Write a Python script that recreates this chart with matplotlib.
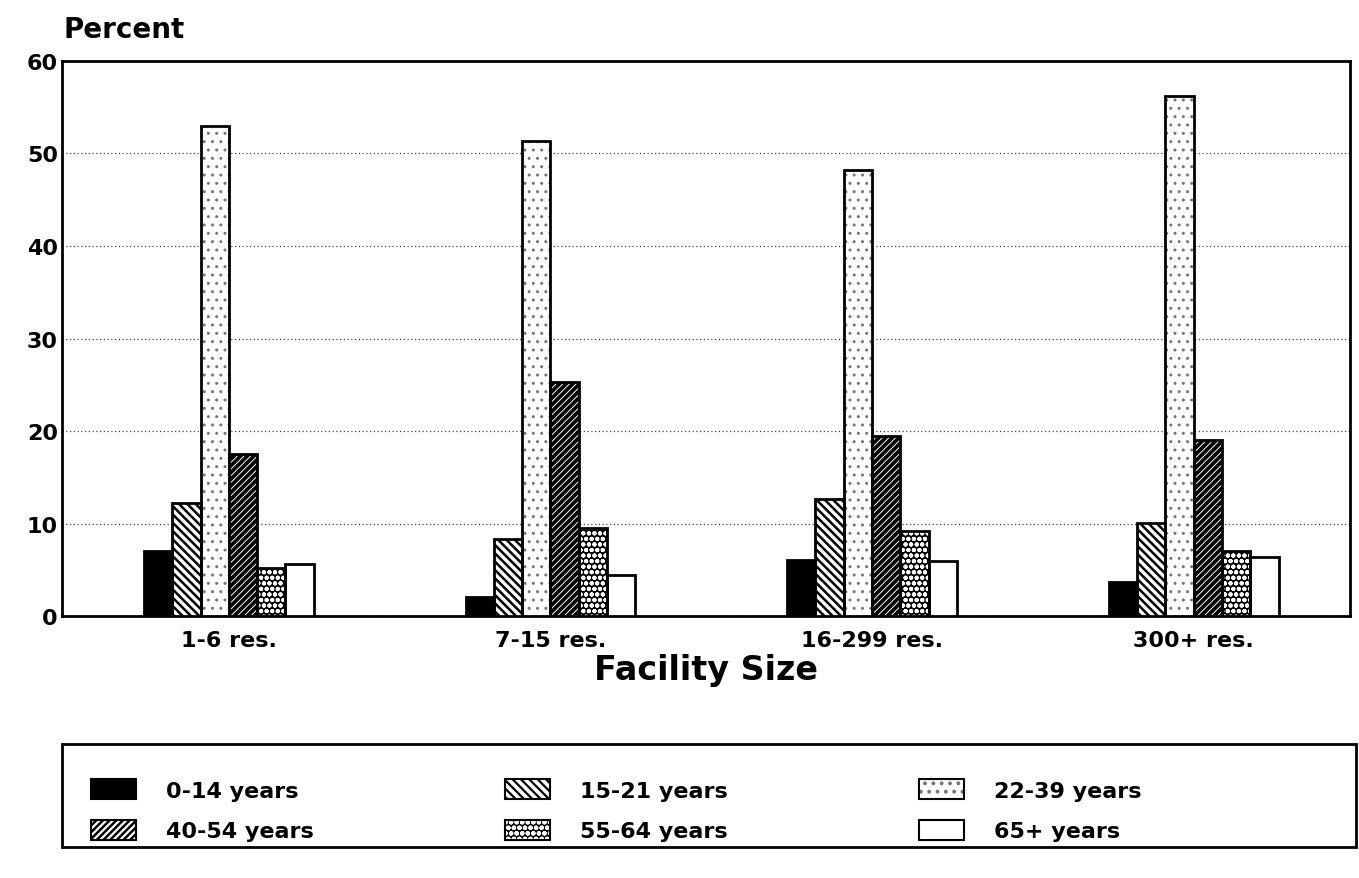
import numpy as np
import matplotlib
matplotlib.use('Agg')
import matplotlib.pyplot as plt
from matplotlib import rcParams
from matplotlib.patches import Rectangle, Patch

# ------------------- data -------------------
sizes = ['1-6 res.', '7-15 res.', '16-299 res.', '300+ res.']
age_groups = ['0-14 years', '15-21 years', '22-39 years',
              '40-54 years', '55-64 years', '65+ years']

age_0_14 = [7.0, 2.1, 6.1, 3.7]
age_15_21 = [12.2, 8.3, 12.6, 10.1]
age_22_39 = [53.0, 51.4, 48.2, 56.2]
age_40_54 = [17.5, 25.3, 19.5, 19.0]
age_55_64 = [5.2, 9.5, 9.2, 7.0]
age_65_up = [5.6, 4.4, 5.9, 6.4]
series = [age_0_14, age_15_21, age_22_39, age_40_54, age_55_64, age_65_up]

yticks = [0, 10, 20, 30, 40, 50, 60]

# face colour, hatch, hatch colour, hatch width for each age group
styles = [('black', '', 'black', 1.6),
          ('white', '\\\\\\\\', 'black', 1.8),
          ('white', '..', '#777777', 1.0),
          ('black', '/////', 'white', 0.7),
          ('black', 'ooo', 'white', 1.4),
          ('white', '', 'black', 1.6)]

params = {'font.family': 'DejaVu Sans',
          'font.weight': 'bold',
          'hatch.linewidth': 1.6,
          'axes.linewidth': 2.0}
rcParams.update(params)

fig = plt.figure(figsize=(13.59, 8.79), dpi=100)
ax = fig.add_axes([0.0456, 0.298, 0.948, 0.6315])


def hatch_patch(fc, hatch, hc, hw):
    p = Patch(facecolor=fc, hatch=hatch, edgecolor=hc, lw=0)
    if hasattr(p, 'set_hatch_linewidth'):
        p.set_hatch_linewidth(hw)
    return p


x = np.arange(len(sizes))
w = 0.088
for i, vals in enumerate(series):
    fc, hatch, hc, hw = styles[i]
    pos = x + (i - 2.5) * w
    with plt.rc_context({'hatch.linewidth': hw}):
        bars = ax.bar(pos, vals, w, color=fc, hatch=hatch, edgecolor=hc,
                      lw=0, zorder=3)
    for b in bars:
        if hasattr(b, 'set_hatch_linewidth'):
            b.set_hatch_linewidth(hw)
    ax.bar(pos, vals, w, fill=False, edgecolor='black', lw=2, zorder=4)

ax.set_xlim(-0.519, 3.487)
ax.set_ylim(0, 60)
ax.set_yticks(yticks)
ax.set_xticks(x)
ax.set_xticklabels(sizes)
ax.tick_params(axis='both', length=0, labelsize=16)
ax.tick_params(axis='x', pad=10)
ax.tick_params(axis='y', pad=3)
ax.yaxis.grid(True, linestyle=(0, (1, 2)), color='#444444', lw=0.9, zorder=1)
ax.set_axisbelow(True)

ax.set_xlabel('Facility Size', fontsize=24, fontweight='bold', labelpad=2)
fig.text(0.047, 0.966, 'Percent', fontsize=20, ha='left', va='center')

# legend with row-wise order
order = [0, 3, 1, 4, 2, 5]
handles = []
labels = []
for i in order:
    fc, hatch, hc, hw = styles[i]
    fill = hatch_patch(fc, hatch, hc, hw)
    edge = Patch(fill=False, edgecolor='black', lw=1.5)
    handles.append((fill, edge))
    labels.append(age_groups[i])
leg = fig.legend(handles, labels, ncol=3, loc='upper left',
                 bbox_to_anchor=(0.059, 0.125), frameon=False,
                 fontsize=16, handlelength=2.03, handleheight=1.0,
                 handletextpad=1.35, columnspacing=8.6, labelspacing=0.85,
                 borderpad=0)
fig.patches.append(Rectangle((0.0456, 0.035), 0.952, 0.117,
                             transform=fig.transFigure, fill=False,
                             edgecolor='black', lw=2))

fig.savefig('out.png', dpi=100)
